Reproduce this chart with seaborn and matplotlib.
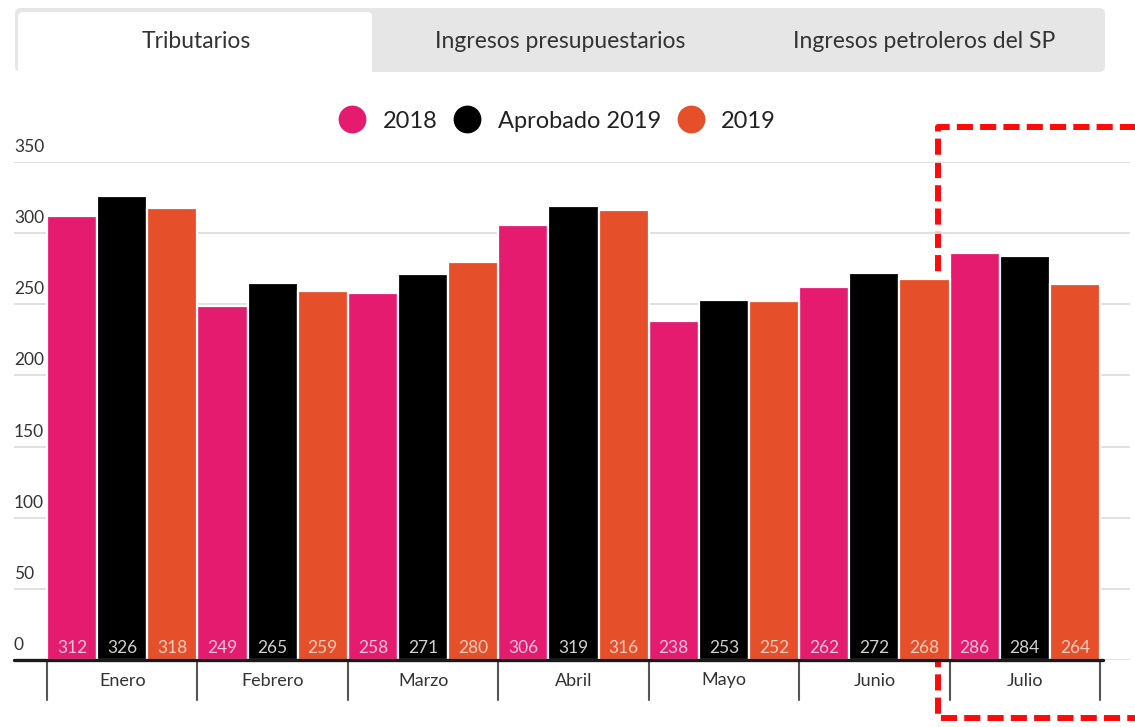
import pandas as pd
import seaborn as sns
from matplotlib import pyplot as plt
from matplotlib.lines import Line2D
from matplotlib.patches import FancyBboxPatch, Rectangle

# Datos (miles de millones de pesos)
MESES = ['Enero', 'Febrero', 'Marzo', 'Abril', 'Mayo', 'Junio', 'Julio']
SERIES = ['2018', 'Aprobado 2019', '2019']
VALORES_2018 = [312, 249, 258, 306, 238, 262, 286]
VALORES_APROBADO_2019 = [326, 265, 271, 319, 253, 272, 284]
VALORES_2019 = [318, 259, 280, 316, 252, 268, 264]
YTICKS = [0, 50, 100, 150, 200, 250, 300, 350]
TABS = ['Tributarios', 'Ingresos presupuestarios', 'Ingresos petroleros del SP']

COLORES = ['#e41b6f', '#000000', '#e5502b']
COLORES_ETIQUETA = ['#f9c3da', '#d0d0d0', '#f8cbbd']

df = pd.DataFrame({
    'mes': MESES * 3,
    'serie': [s for s in SERIES for _ in MESES],
    'valor': VALORES_2018 + VALORES_APROBADO_2019 + VALORES_2019,
})

sns.set_theme(style='white')
plt.rcParams['font.family'] = ['Lato', 'DejaVu Sans']

W, H = 1135, 727
fig = plt.figure(figsize=(W / 100, H / 100), dpi=100)

# Capa de fondo en píxeles: pestañas y recuadro rojo (detrás de las barras)
ov = fig.add_axes([0, 0, 1, 1], zorder=-1)
ov.set_xlim(0, W)
ov.set_ylim(H, 0)
ov.axis('off')
ov.add_patch(FancyBboxPatch((15, 8), 1090, 64, boxstyle='round,pad=0,rounding_size=6',
                            facecolor='#e6e6e6', edgecolor='none'))
ov.add_patch(FancyBboxPatch((18, 12), 354, 70, boxstyle='round,pad=0,rounding_size=5',
                            facecolor='white', edgecolor='none'))
ov.add_patch(Rectangle((18, 72), 354, 12, facecolor='white', edgecolor='none'))
for x, t in zip([196, 560, 924], TABS):
    ov.text(x, 41, t, ha='center', va='center', fontsize=16.5, color='#333333')
ov.plot([1140, 938, 938, 1140], [127, 127, 718, 718], color='#ff0a0a', lw=4.3,
        ls=(0, (2.7, 1.2)), solid_capstyle='butt', clip_on=False)

# Eje principal, posicionado en píxeles
ax = fig.add_axes([14 / W, (H - 660) / H, 1116 / W, 498 / H])
ax.patch.set_visible(False)
sns.barplot(data=df, x='mes', y='valor', hue='serie', order=MESES, hue_order=SERIES,
            palette=COLORES, saturation=1, width=1, dodge=True, legend=False,
            edgecolor='white', linewidth=1.6, ax=ax, zorder=2)

ax.set_xlim(-0.72, 6.7)
ax.set_ylim(0, 350)
ax.set_yticks(YTICKS)
ax.yaxis.grid(True, color='#dedede', lw=1.3, zorder=0)
ax.set_yticklabels([])
ax.tick_params(axis='y', length=0)
for v in YTICKS:
    ax.annotate(str(v), xy=(0, v), xycoords=('axes fraction', 'data'),
                xytext=(0, 5), textcoords='offset points', ha='left', va='bottom',
                fontsize=12.5, color='#333333')
for s in ax.spines.values():
    s.set_visible(False)

ax.set_xticks(range(len(MESES)))
ax.set_xticklabels(MESES, fontsize=13, color='#333333')
ax.tick_params(axis='x', length=0, pad=9)
ax.set_xlabel('')
ax.set_ylabel('')

# Línea base y separadores de categorías
ax.plot([-0.72, 6.52], [0, 0], color='#1a1a1a', lw=2.4, clip_on=False, zorder=4)
trans = ax.get_xaxis_transform()
for i in range(len(MESES) + 1):
    ax.plot([i - 0.5, i - 0.5], [0, -40 / 498], transform=trans, color='#555555',
            lw=1.5, clip_on=False)

# Etiquetas de valor al pie de las barras
for container, col in zip(ax.containers, COLORES_ETIQUETA):
    for bar in container:
        ax.annotate(f'{bar.get_height():.0f}', xy=(bar.get_x() + bar.get_width() / 2, 0),
                    xytext=(0, 3), textcoords='offset points', ha='center', va='bottom',
                    fontsize=12.5, color=col, zorder=5)

# Leyenda
handles = [Line2D([], [], marker='o', ls='', markersize=19, markerfacecolor=c,
                  markeredgecolor=c) for c in COLORES]
fig.legend(handles, SERIES, loc='center', bbox_to_anchor=(557 / W, 1 - 121 / H), ncol=3,
           frameon=False, fontsize=17, handlelength=1.2, handletextpad=0.7,
           columnspacing=0.65, labelcolor='#222222')

fig.savefig('out.png', dpi=100)
plt.close()
